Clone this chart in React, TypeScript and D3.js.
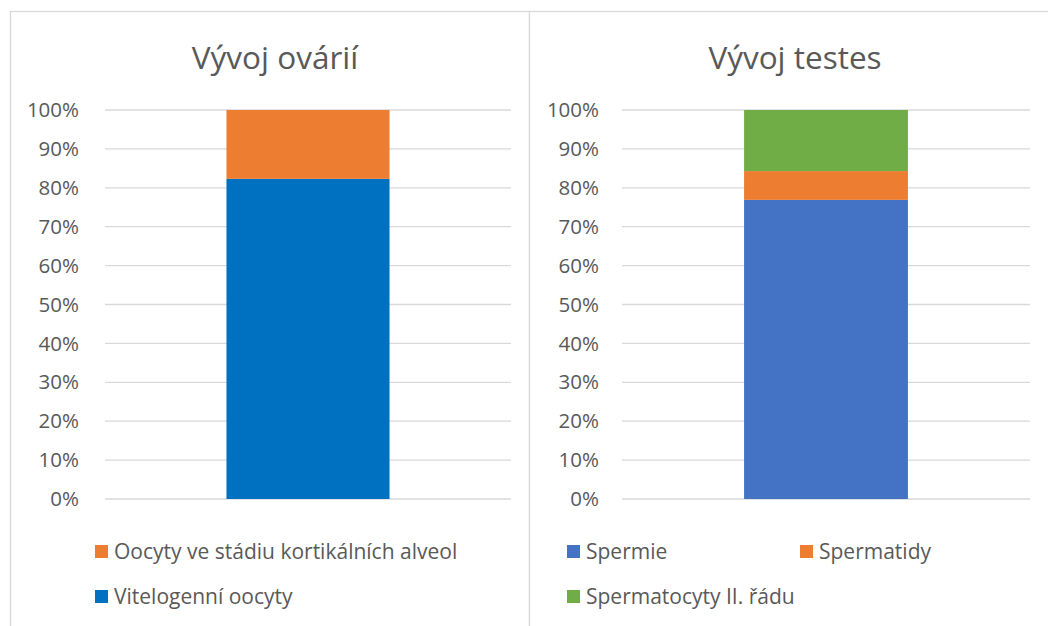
import * as d3 from "d3";

const ovaryTitle = "Vývoj ovárií";
const ovarySeries = ["Vitelogenní oocyty", "Oocyty ve stádiu kortikálních alveol"];
const ovaryValues = [82.3, 17.7];
const ovaryColors = ["#0070C0", "#ED7D31"];

const testesTitle = "Vývoj testes";
const testesSeries = ["Spermie", "Spermatidy", "Spermatocyty II. řádu"];
const testesValues = [76.9, 7.4, 15.7];
const testesColors = ["#4472C4", "#ED7D31", "#70AD47"];

const tickValues = [0, 10, 20, 30, 40, 50, 60, 70, 80, 90, 100];

const FONT = "'Open Sans', Lato, sans-serif";
const TEXT = "#595959";
const GRID = "#D9D9D9";

type Legend = { label: string; color: string; x: number; y: number };

function Panel(props: {
  x0: number;
  x1: number;
  title: string;
  titleX: number;
  series: string[];
  values: number[];
  colors: string[];
  plotLeft: number;
  plotRight: number;
  labelX: number;
  legend: Legend[];
}) {
  const y = d3.scaleLinear().domain([0, 100]).range([499, 110]);
  const x = d3.scaleBand().domain(["1"]).range([props.plotLeft, props.plotRight]).paddingInner(0).paddingOuter(0.745);
  const stackData = [Object.fromEntries(props.series.map((s, i) => [s, props.values[i]]))];
  const stack = d3.stack<any>().keys(props.series)(stackData);
  const bw = x.bandwidth();
  const bx = x("1") as number;

  return (
    <g>
      <rect x={props.x0 + 0.5} y={11.5} width={props.x1 - props.x0} height={640} fill="#fff" stroke={GRID} strokeWidth={1.3} />
      <text x={props.titleX} y={69} textAnchor="middle" fontSize={31.5} fill={TEXT} fontFamily={FONT}>
        {props.title}
      </text>
      {tickValues.map((t) => (
        <g key={t}>
          <line x1={props.plotLeft} x2={props.plotRight} y1={y(t)} y2={y(t)} stroke={GRID} strokeWidth={1.3} />
          <text x={props.labelX} y={y(t)} dy="0.35em" textAnchor="end" fontSize={20.5} fill={TEXT} fontFamily={FONT}>
            {t}%
          </text>
        </g>
      ))}
      {stack.map((layer, i) => (
        <rect
          key={props.series[i]}
          x={bx}
          width={bw}
          y={y(layer[0][1])}
          height={y(layer[0][0]) - y(layer[0][1])}
          fill={props.colors[i]}
        />
      ))}
      {props.legend.map((l) => (
        <g key={l.label}>
          <rect x={l.x} y={l.y - 6.5} width={13} height={13} fill={l.color} />
          <text x={l.x + 19} y={l.y} dy="0.35em" fontSize={21} fill={TEXT} fontFamily={FONT}>
            {l.label}
          </text>
        </g>
      ))}
    </g>
  );
}

export default function App() {
  return (
    <svg width={1048} height={626} style={{ position: "absolute", left: 0, top: 0, background: "#fff" }}>
      <Panel
        x0={10}
        x1={529}
        title={ovaryTitle}
        titleX={275}
        series={ovarySeries}
        values={ovaryValues}
        colors={ovaryColors}
        plotLeft={105}
        plotRight={511}
        labelX={79}
        legend={[
          { label: ovarySeries[1], color: ovaryColors[1], x: 95, y: 551.5 },
          { label: ovarySeries[0], color: ovaryColors[0], x: 95, y: 596.5 },
        ]}
      />
      <Panel
        x0={529}
        x1={1070}
        title={testesTitle}
        titleX={795}
        series={testesSeries}
        values={testesValues}
        colors={testesColors}
        plotLeft={622}
        plotRight={1030}
        labelX={599}
        legend={[
          { label: testesSeries[0], color: testesColors[0], x: 567, y: 551.5 },
          { label: testesSeries[1], color: testesColors[1], x: 800, y: 551.5 },
          { label: testesSeries[2], color: testesColors[2], x: 567, y: 596.5 },
        ]}
      />
    </svg>
  );
}
